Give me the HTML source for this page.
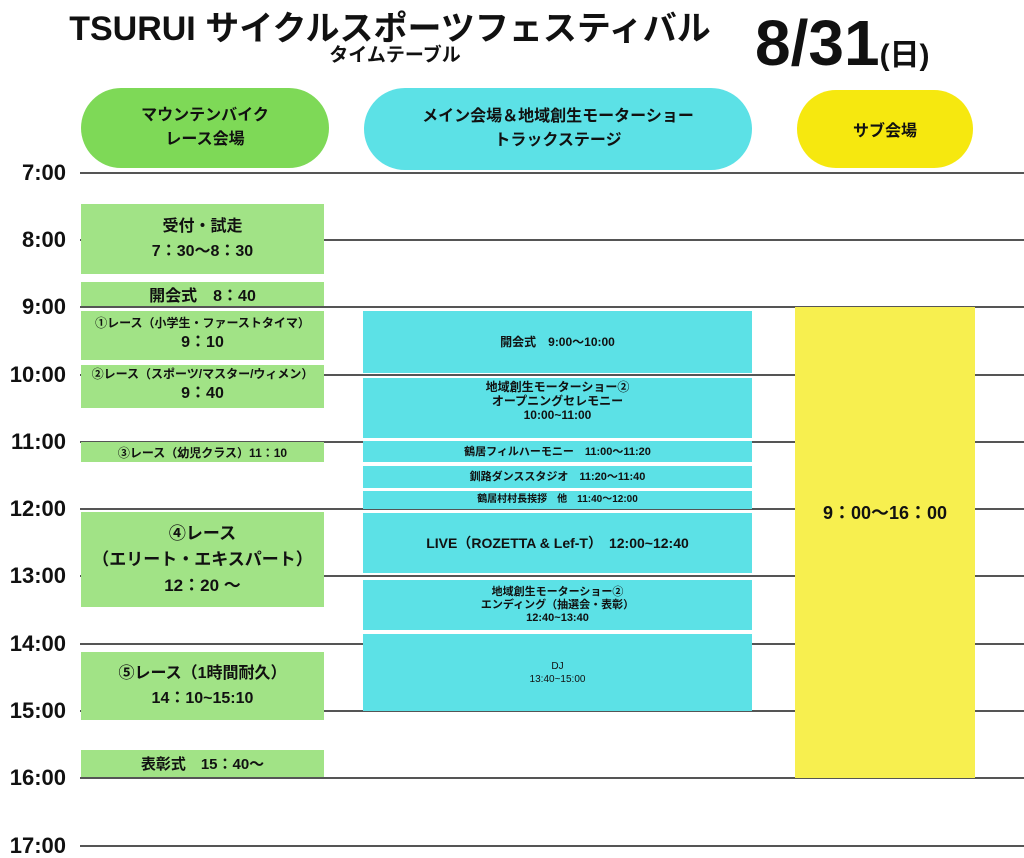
<!DOCTYPE html>
<html><head><meta charset="utf-8"><style>
body{margin:0;width:1024px;height:858px;background:#fff;position:relative;overflow:hidden;font-family:"Liberation Sans","Noto Sans CJK JP",sans-serif;color:#111}
.a{position:absolute;box-sizing:border-box;display:flex;flex-direction:column;align-items:center;justify-content:center;text-align:center;font-weight:bold}
.ln{position:absolute;left:80px;width:944px;height:2px;background:#555}
.t{position:absolute;left:0;width:66px;text-align:right;font-weight:bold;font-size:22px;line-height:22px}
.g{background:#a1e386;left:81px;width:243px}
.c{background:#5ce1e6;left:363px;width:389px;font-size:12px;line-height:14px}
</style></head><body>
<div class="a" style="left:30px;top:10px;width:720px;font-size:34px;line-height:38px;white-space:nowrap">TSURUI サイクルスポーツフェスティバル</div>
<div class="a" style="left:300px;top:45px;width:190px;font-size:19px;line-height:22px">タイムテーブル</div>
<div class="a" style="left:745px;top:8px;width:230px;font-size:64px;line-height:70px;flex-direction:row;align-items:baseline;justify-content:flex-start;padding-left:10px">8/31<span style="font-size:30px">(日)</span></div>

<div class="a" style="left:81px;top:88px;width:248px;height:80px;border-radius:40px;background:#7ed957;font-size:16px;line-height:24px">マウンテンバイク<br>レース会場</div>
<div class="a" style="left:364px;top:88px;width:388px;height:82px;border-radius:41px;background:#5ce1e6;font-size:16px;line-height:24px">メイン会場＆地域創生モーターショー<br>トラックステージ</div>
<div class="a" style="left:797px;top:90px;width:176px;height:78px;border-radius:39px;background:#f6e80f;font-size:16px">サブ会場</div>

<div class="ln" style="top:172px"></div><div class="t" style="top:162px">7:00</div>
<div class="ln" style="top:239px"></div><div class="t" style="top:229px">8:00</div>
<div class="ln" style="top:306px"></div><div class="t" style="top:296px">9:00</div>
<div class="ln" style="top:374px"></div><div class="t" style="top:364px">10:00</div>
<div class="ln" style="top:441px"></div><div class="t" style="top:431px">11:00</div>
<div class="ln" style="top:508px"></div><div class="t" style="top:498px">12:00</div>
<div class="ln" style="top:575px"></div><div class="t" style="top:565px">13:00</div>
<div class="ln" style="top:643px"></div><div class="t" style="top:633px">14:00</div>
<div class="ln" style="top:710px"></div><div class="t" style="top:700px">15:00</div>
<div class="ln" style="top:777px"></div><div class="t" style="top:767px">16:00</div>
<div class="ln" style="top:845px"></div><div class="t" style="top:835px">17:00</div>

<div class="a g" style="top:204px;height:70px;font-size:16px;line-height:25px">受付・試走<br>7：30〜8：30</div>
<div class="a g" style="top:282px;height:24px;font-size:16px">開会式　8：40</div>
<div class="a g" style="top:311px;height:49px;font-size:12px;line-height:14px">①レース（小学生・ファーストタイマ）<br><span style="font-size:16px;line-height:26px">9：10</span></div>
<div class="a g" style="top:365px;height:43px;font-size:12px;line-height:14px">②レース（スポーツ/マスター/ウィメン）<br><span style="font-size:16px;line-height:26px">9：40</span></div>
<div class="a g" style="top:442px;height:20px;font-size:12px">③レース（幼児クラス）11：10</div>
<div class="a g" style="top:512px;height:95px;font-size:17px;line-height:26px">④レース<br>（エリート・エキスパート）<br>12：20 〜</div>
<div class="a g" style="top:652px;height:68px;font-size:16px;line-height:25px">⑤レース（1時間耐久）<br>14：10~15:10</div>
<div class="a g" style="top:750px;height:27px;font-size:15px">表彰式　15：40〜</div>

<div class="a c" style="top:311px;height:62px">開会式　9:00〜10:00</div>
<div class="a c" style="top:378px;height:60px;justify-content:flex-start;padding-top:2px">地域創生モーターショー②<br>オープニングセレモニー<br>10:00~11:00</div>
<div class="a c" style="top:441px;height:21px;font-size:11px">鶴居フィルハーモニー　11:00〜11:20</div>
<div class="a c" style="top:466px;height:22px;font-size:11px">釧路ダンススタジオ　11:20〜11:40</div>
<div class="a c" style="top:491px;height:18px;font-size:10px">鶴居村村長挨拶　他　11:40〜12:00</div>
<div class="a c" style="top:513px;height:60px;font-size:14px">LIVE（ROZETTA &amp; Lef-T）　12:00~12:40</div>
<div class="a c" style="top:580px;height:50px;font-size:11px;line-height:13px">地域創生モーターショー②<br>エンディング（抽選会・表彰）<br>12:40~13:40</div>
<div class="a c" style="top:634px;height:77px;font-size:10px;line-height:13px;font-weight:normal">DJ<br>13:40~15:00</div>

<div class="a" style="left:795px;top:307px;width:180px;height:471px;background:#f7ef4f;font-size:18px;justify-content:flex-start;padding-top:192px">9：00〜16：00</div>
</body></html>
